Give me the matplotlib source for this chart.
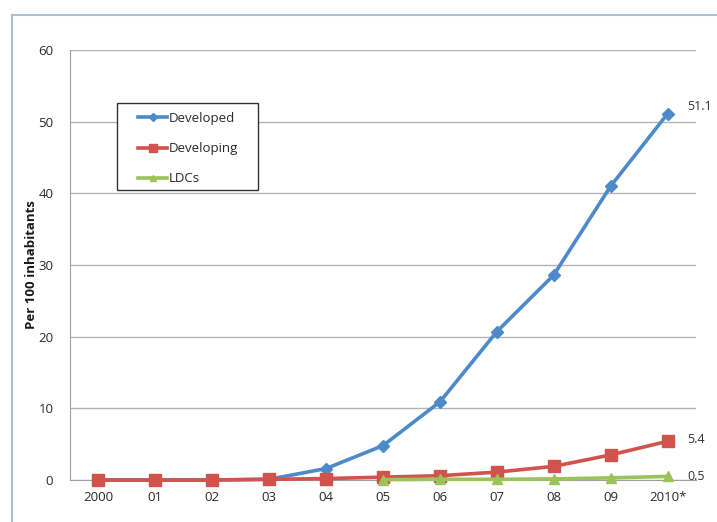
import matplotlib
matplotlib.use("Agg")
import matplotlib.pyplot as plt
from matplotlib.patches import Rectangle
from matplotlib.lines import Line2D

years = ["2000", "01", "02", "03", "04", "05", "06", "07", "08", "09", "2010*"]
developed = [0.0, 0.0, 0.0, 0.1, 1.6, 4.8, 10.9, 20.7, 28.6, 41.0, 51.1]
developing = [0.0, 0.0, 0.0, 0.1, 0.2, 0.4, 0.6, 1.1, 1.9, 3.5, 5.4]
ldc_years_idx = [5, 6, 7, 8, 9, 10]
ldcs = [0.05, 0.1, 0.1, 0.15, 0.3, 0.5]
end_labels = ["51.1", "5.4", "0.5"]

plt.rcParams['font.family'] = ['Open Sans', 'DejaVu Sans']

W, H = 717, 522
fig = plt.figure(figsize=(W/100, H/100), dpi=100)
fig.patch.set_facecolor('white')

# outer frame (left & top edges visible)
frame_col = '#a8c2dc'
fig.add_artist(Line2D([12/W, 12/W], [0, 1-15/H], transform=fig.transFigure, color=frame_col, lw=1.5))
fig.add_artist(Line2D([12/W, 1], [1-15/H, 1-15/H], transform=fig.transFigure, color=frame_col, lw=1.5))

ax = fig.add_axes([70/W, 1-480/H, (696-70)/W, (480-50)/H])
x = list(range(len(years)))

c_blue = '#4D8ACB'
c_red = '#D2524C'
c_green = '#9CC35A'

ax.plot(x, developed, color=c_blue, lw=2.6, marker='D', ms=6.5, zorder=3, label='Developed', clip_on=False)
ax.plot(x, developing, color=c_red, lw=2.6, marker='s', ms=8.5, zorder=4, label='Developing', clip_on=False)
ax.plot(ldc_years_idx, ldcs, color=c_green, lw=2.6, marker='^', ms=7.5, zorder=5, label='LDCs', clip_on=False)

ax.set_xlim(-0.5, len(years) - 0.5)
ax.set_ylim(0, 60)
ax.set_yticks(range(0, 61, 10))
ax.set_xticks(x)
ax.set_xticklabels(years)
ax.tick_params(axis='both', labelsize=9.5, colors='#2a2a2a', length=0, pad=8)
ax.tick_params(axis='y', pad=12)
ax.yaxis.grid(True, color='#b3b3b3', lw=1)
ax.set_axisbelow(True)
for s in ['top', 'right']:
    ax.spines[s].set_visible(False)
for s in ['left', 'bottom']:
    ax.spines[s].set_color('#a0a0a0')

ax.set_ylabel('Per 100 inhabitants', fontsize=9.5, fontweight='bold', color='#1a1a1a')
ax.yaxis.set_label_coords(-(70-38)/626, 0.5)

ax.annotate(end_labels[0], (x[-1], developed[-1]), xytext=(14, 5), textcoords='offset points', fontsize=9, color='#333333', va='center')
ax.annotate(end_labels[1], (x[-1], developing[-1]), xytext=(14, 1), textcoords='offset points', fontsize=9, color='#333333', va='center')
ax.annotate(end_labels[2], (ldc_years_idx[-1], ldcs[-1]), xytext=(14, 0), textcoords='offset points', fontsize=9, color='#333333', va='center')

# legend box drawn manually
box = Rectangle((117/W, 1-190/H), (258-117)/W, (190-103)/H, transform=fig.transFigure,
                facecolor='white', edgecolor='#333333', lw=1.0, zorder=9, clip_on=False)
ax.add_patch(box)
leg = ax.legend(loc='upper left', bbox_to_anchor=((138-70)/626, (480-112)/430), frameon=False,
                fontsize=9.5, handlelength=2.2, borderpad=0.0, labelspacing=1.3,
                handletextpad=0.15, borderaxespad=0, markerscale=0.65)
leg.set_zorder(11)
for t in leg.get_texts():
    t.set_color('#2a2a2a')

fig.savefig('out.png', dpi=100, facecolor='white')
